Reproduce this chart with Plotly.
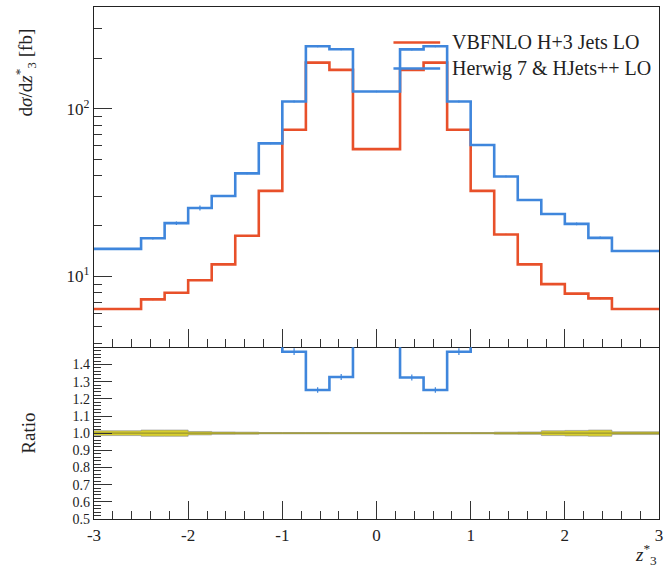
import numpy as np
import plotly.graph_objects as go

# Bin edges in z3*
edges = [-3.0, -2.5, -2.25, -2.0, -1.75, -1.5, -1.25, -1.0, -0.75, -0.5, -0.25,
         0.25, 0.5, 0.75, 1.0, 1.25, 1.5, 1.75, 2.0, 2.25, 2.5, 3.0]

# dsigma/dz3* [fb]
vbfnlo = [6.4, 7.3, 8.0, 9.5, 11.8, 17.5, 32.4, 75.0, 188.6, 170.7, 57.5,
          170.7, 188.6, 75.0, 32.4, 17.8, 11.8, 9.0, 7.9, 7.4, 6.4]
vbfnlo_err = [0.06, 0.08, 0.08, 0.1, 0.1, 0.15, 0.2, 0.4, 0.9, 0.9, 0.3,
              0.9, 0.9, 0.4, 0.2, 0.15, 0.1, 0.1, 0.08, 0.08, 0.06]
herwig = [14.6, 16.9, 20.8, 25.6, 30.2, 41.2, 62.2, 110.6, 236.0, 226.6, 126.8,
          226.0, 236.0, 110.6, 60.8, 39.5, 28.6, 23.6, 20.6, 17.0, 14.2]
herwig_err = [0.2, 0.3, 0.5, 0.9, 0.4, 0.5, 0.8, 1.5, 3.0, 3.0, 1.5,
              3.0, 3.0, 1.5, 0.8, 0.5, 0.4, 0.3, 0.4, 0.3, 0.2]
# relative MC uncertainty band of the reference prediction
band_rel = [0.014, 0.018, 0.018, 0.010, 0.007, 0.006, 0.004, 0.004, 0.004, 0.004, 0.004,
            0.004, 0.004, 0.004, 0.004, 0.006, 0.007, 0.014, 0.016, 0.018, 0.008]

labels = ["VBFNLO H+3 Jets LO", "Herwig 7 & HJets++ LO"]
xticks = [-3, -2, -1, 0, 1, 2, 3]
ratio_ticks = [0.5, 0.6, 0.7, 0.8, 0.9, 1.0, 1.1, 1.2, 1.3, 1.4]

RED = "#e8502a"
BLUE = "#3f86dc"
FONT = "Liberation Serif"

edges_a = np.array(edges)
centers = 0.5 * (edges_a[:-1] + edges_a[1:])
v_ref = np.array(vbfnlo)
v_hw = np.array(herwig)
ratio = v_hw / v_ref
ratio_err = np.array(herwig_err) / v_ref


def step(vals):
    return list(vals) + [vals[-1]]


fig = go.Figure()

# main panel
for vals, errs, col in [(vbfnlo, vbfnlo_err, RED), (herwig, herwig_err, BLUE)]:
    fig.add_trace(go.Scatter(x=edges, y=step(vals), mode="lines", line_shape="hv",
                             line=dict(color=col, width=2.6), xaxis="x", yaxis="y",
                             showlegend=False, hoverinfo="skip"))
    fig.add_trace(go.Scatter(x=centers, y=vals, mode="markers", marker=dict(size=1, color=col),
                             error_y=dict(type="data", array=errs, width=0, thickness=1.2, color=col),
                             xaxis="x", yaxis="y", showlegend=False, hoverinfo="skip"))

# ratio panel: uncertainty band of the reference
lo = 1 - np.array(band_rel)
hi = 1 + np.array(band_rel)
fig.add_trace(go.Scatter(x=edges, y=step(lo), mode="lines", line_shape="hv",
                         line=dict(color="rgba(140,140,140,0.8)", width=0.8),
                         xaxis="x2", yaxis="y2", showlegend=False, hoverinfo="skip"))
fig.add_trace(go.Scatter(x=edges, y=step(hi), mode="lines", line_shape="hv",
                         line=dict(color="rgba(140,140,140,0.8)", width=0.8),
                         fill="tonexty", fillcolor="#d8cf2c",
                         xaxis="x2", yaxis="y2", showlegend=False, hoverinfo="skip"))
fig.add_trace(go.Scatter(x=edges, y=step(v_ref / v_ref), mode="lines", line_shape="hv",
                         line=dict(color="#9a9432", width=1.4),
                         xaxis="x2", yaxis="y2", showlegend=False, hoverinfo="skip"))
fig.add_trace(go.Scatter(x=edges, y=step(ratio), mode="lines", line_shape="hv",
                         line=dict(color=BLUE, width=2.6),
                         xaxis="x2", yaxis="y2", showlegend=False, hoverinfo="skip"))
fig.add_trace(go.Scatter(x=centers, y=ratio, mode="markers", marker=dict(size=1, color=BLUE),
                         error_y=dict(type="data", array=ratio_err, width=0, thickness=1.2, color=BLUE),
                         xaxis="x2", yaxis="y2", showlegend=False, hoverinfo="skip"))

tickfont = dict(family=FONT, size=17, color="#222222")
axis_common = dict(showline=True, linecolor="#222222", linewidth=1.3,
                   ticks="inside", tickcolor="#333333", tickwidth=1.2, ticklen=18,
                   showgrid=False, zeroline=False)

split = 172 / 513

fig.update_layout(
    width=669, height=573,
    margin=dict(l=94, r=7, t=6, b=54),
    paper_bgcolor="white", plot_bgcolor="white",
    showlegend=False,
    xaxis=dict(domain=[0, 1], range=[-3, 3], anchor="y", showticklabels=False,
               tickvals=xticks, mirror=True, tickfont=tickfont,
               minor=dict(dtick=0.2, tick0=-3, ticks="inside", ticklen=8,
                          tickcolor="#333333", tickwidth=1.2),
               **axis_common),
    yaxis=dict(domain=[split, 1], type="log", range=[0.5774, 2.607], anchor="x",
               tickvals=[10, 100], ticktext=["10<sup>1</sup>", "10<sup>2</sup>"],
               mirror=True, tickfont=tickfont,
               minor=dict(tickmode="array",
                          tickvals=[4, 5, 6, 7, 8, 9, 20, 30, 40, 50, 60, 70, 80, 90,
                                    200, 300, 400],
                          ticks="inside", ticklen=8, tickcolor="#333333", tickwidth=1.2),
               **axis_common),
    xaxis2=dict(domain=[0, 1], range=[-3, 3], anchor="y2", matches="x",
                tickvals=xticks, ticktext=[str(t) for t in xticks],
                mirror=False, tickfont=tickfont,
                minor=dict(dtick=0.2, tick0=-3, ticks="inside", ticklen=8,
                           tickcolor="#333333", tickwidth=1.2),
                **axis_common),
    yaxis2=dict(domain=[0, split], range=[0.5, 1.5], anchor="x2",
                tickvals=ratio_ticks, ticktext=[f"{t:.1f}" for t in ratio_ticks],
                mirror=True, tickfont=dict(family=FONT, size=14, color="#222222"),
                minor=dict(dtick=0.02, tick0=0.5, ticks="inside", ticklen=7,
                           tickcolor="#333333", tickwidth=1.0),
                **axis_common),
)

# axis titles
fig.add_annotation(text="d<i>σ</i>/d<i>z</i><sup>*</sup><sub>3</sub> [fb]",
                   xref="paper", yref="paper", x=-0.1215, y=0.873,
                   textangle=-90, showarrow=False, xanchor="center", yanchor="middle",
                   font=dict(family=FONT, size=19, color="#222222"))
fig.add_annotation(text="Ratio", xref="paper", yref="paper", x=-0.116, y=0.1676,
                   textangle=-90, showarrow=False, xanchor="center", yanchor="middle",
                   font=dict(family=FONT, size=19, color="#222222"))
fig.add_annotation(text="<i>z</i><sup>*</sup><sub>3</sub>", xref="paper", yref="paper",
                   x=1.0, y=-0.07, showarrow=False, xanchor="right", yanchor="middle",
                   font=dict(family=FONT, size=19, color="#222222"))

# legend
for lab, col, yl in [(labels[0], RED, 0.9308), (labels[1], BLUE, 0.880)]:
    fig.add_shape(type="line", xref="paper", yref="paper", x0=0.530, x1=0.6127,
                  y0=yl, y1=yl, line=dict(color=col, width=2.6))
    fig.add_annotation(text=lab, xref="paper", yref="paper", x=0.630, y=yl,
                       showarrow=False, xanchor="left", yanchor="middle",
                       font=dict(family=FONT, size=20, color="#222222"))

fig.write_html("out.html")
